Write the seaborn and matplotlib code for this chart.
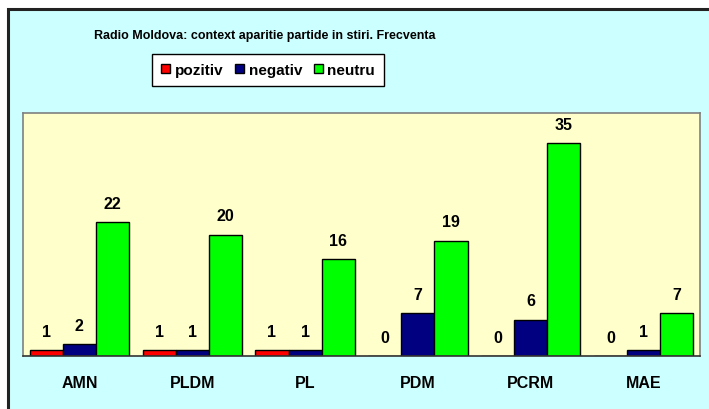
"""
Radio Moldova: context aparitie partide in stiri (frecventa).
"""
import numpy as np
import pandas as pd
import matplotlib
matplotlib.use("Agg")
import matplotlib.pyplot as plt
from matplotlib.patches import Rectangle
import seaborn as sns

PARTIES = ["AMN", "PLDM", "PL", "PDM", "PCRM", "MAE"]
POZITIV = [1, 1, 1, 0, 0, 0]
NEGATIV = [2, 1, 1, 7, 6, 1]
NEUTRU = [22, 20, 16, 19, 35, 7]
SERIES = ["pozitiv", "negativ", "neutru"]
COLORS = ["#FF0000", "#000080", "#00FF00"]
TITLE = "Radio Moldova: context aparitie partide in stiri. Frecventa"


def main():
    sns.set_style("white")
    plt.rcParams["font.family"] = ["Liberation Sans", "DejaVu Sans"]
    plt.rcParams["font.weight"] = "bold"
    plt.rcParams["text.color"] = "black"
    plt.rcParams["xtick.color"] = "black"

    df = pd.DataFrame({
        "partid": PARTIES * 3,
        "serie": np.repeat(SERIES, len(PARTIES)),
        "frecventa": POZITIV + NEGATIV + NEUTRU,
    })

    fig = plt.figure(figsize=(7.09, 4.10), dpi=100)
    fig.patch.set_facecolor("white")
    # chart area (cyan, black frame) - runs off right/bottom edges in the original
    fig.patches.append(Rectangle((8 / 709, -0.1), 1.2, 1.1 - 10 / 410,
                                 transform=fig.transFigure, facecolor="#CCFFFF",
                                 edgecolor="#222222", linewidth=2.2, zorder=-5))

    ax = fig.add_axes([23 / 709, 1 - 357 / 410, 677 / 709, 243 / 410])
    ax.set_zorder(2)
    ax.set_facecolor("#FFFFCC")

    sns.barplot(data=df, x="partid", y="frecventa", hue="serie", hue_order=SERIES,
                palette=COLORS, width=0.88, edgecolor="black", linewidth=1,
                saturation=1, ax=ax)

    for cont, vals in zip(ax.containers, [POZITIV, NEGATIV, NEUTRU]):
        ax.bar_label(cont, labels=[str(v) for v in vals], padding=8,
                     fontsize=11.5, fontweight="bold", color="black")

    ax.set_ylim(0, 40)
    ax.set_xlim(-0.5, len(PARTIES) - 0.5)
    ax.set_xlabel("")
    ax.set_ylabel("")
    ax.set_yticks([])
    ax.tick_params(axis="x", which="major", length=0, pad=14, labelsize=11.5)
    ax.set_xticks(np.arange(-0.5, len(PARTIES)), minor=True)
    ax.tick_params(axis="x", which="minor", length=5, width=1, color="#333333",
                   direction="out")
    for lbl in ax.get_xticklabels():
        lbl.set_fontweight("bold")

    for side in ["left", "top", "right"]:
        ax.spines[side].set_color("#808080")
        ax.spines[side].set_linewidth(1.2)
    ax.spines["bottom"].set_color("#333333")
    ax.spines["bottom"].set_linewidth(1.2)

    fig.text(265 / 709, 1 - 36 / 410, TITLE, ha="center", va="center",
             fontsize=9, fontweight="bold", color="black")

    sns.move_legend(ax, "center", bbox_to_anchor=(268 / 709, 1 - 71 / 410),
                    bbox_transform=fig.transFigure, ncol=3, title=None,
                    frameon=True, fancybox=False, fontsize=11,
                    handlelength=0.6, handleheight=0.6, handletextpad=0.3,
                    columnspacing=0.75, borderpad=0.6, borderaxespad=0,
                    edgecolor="black")
    leg = ax.get_legend()
    leg.get_frame().set_linewidth(1)
    leg.get_frame().set_facecolor("white")
    leg.get_frame().set_alpha(1)
    for t in leg.get_texts():
        t.set_fontweight("bold")
        t.set_color("black")

    fig.savefig("out.png", dpi=100)


if __name__ == "__main__":
    main()
